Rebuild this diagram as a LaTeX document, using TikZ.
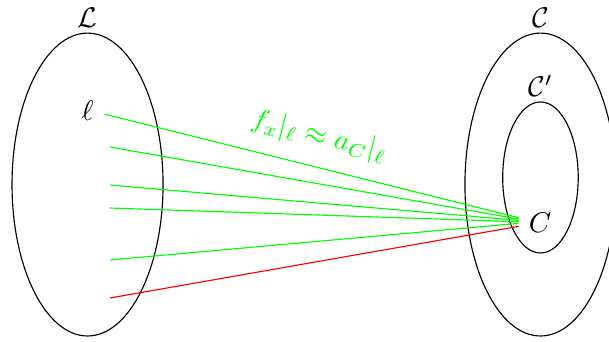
\documentclass[tikz,border=0pt]{standalone}
\usepackage{amsmath,amssymb}
\usepackage{tikz}
\usetikzlibrary{positioning,shapes.geometric,calc}
\tikzset{
  set/.style={draw,ellipse,line width=0.4pt,minimum width=1.86cm,minimum height=3.73cm,inner sep=0pt},
  subset/.style={set,minimum width=0.93cm,minimum height=1.86cm},
  setname/.style={inner sep=1.4pt},
  good/.style={draw=green},
  bad/.style={draw=red},
  approx/.style={text=green,sloped,above=2pt},
}
\begin{document}
\begin{tikzpicture}
  \useasboundingbox (0,0) rectangle (7.5,4.2);
  \clip (0,0) rectangle (7.5,4.2);
  % Mengen
  \node[set] (L) at (1.078,1.927) {};
  \node[set] (CC) at (6.656,1.927) {};
  \node[subset] (CP) at (6.656,2.014) {};
  \node[setname,above=0pt of L] {$\mathcal{L}$};
  \node[setname,above=0pt of CC] {$\mathcal{C}$};
  \node[setname,above=0pt of CP] {$\mathcal{C}'$};
  \node (l) at (1.078,2.833) {$\ell$};
  \node (C) at (6.650,1.453) {$C$};
  % Linien
  \coordinate (s0) at (1.293,2.793);
  \coordinate (e0) at ([yshift=1.85pt]C.west);
  \draw[good] (s0) -- node[approx] {$f_x|_\ell \approx a_C|_\ell$} (e0);
  \foreach \i/\y/\d in {1/2.389/1.4,2/1.921/0.95,3/1.638/0.45,4/0.998/-0.1} {
    \coordinate (s\i) at (1.355,\y);
    \coordinate (e\i) at ([yshift=\d pt]C.west);
    \draw[good] (s\i) -- (e\i);
  }
  \coordinate (s5) at (1.355,0.530);
  \coordinate (e5) at ([yshift=-1.15pt]C.west);
  \draw[bad] (s5) -- (e5);
\end{tikzpicture}
\end{document}
